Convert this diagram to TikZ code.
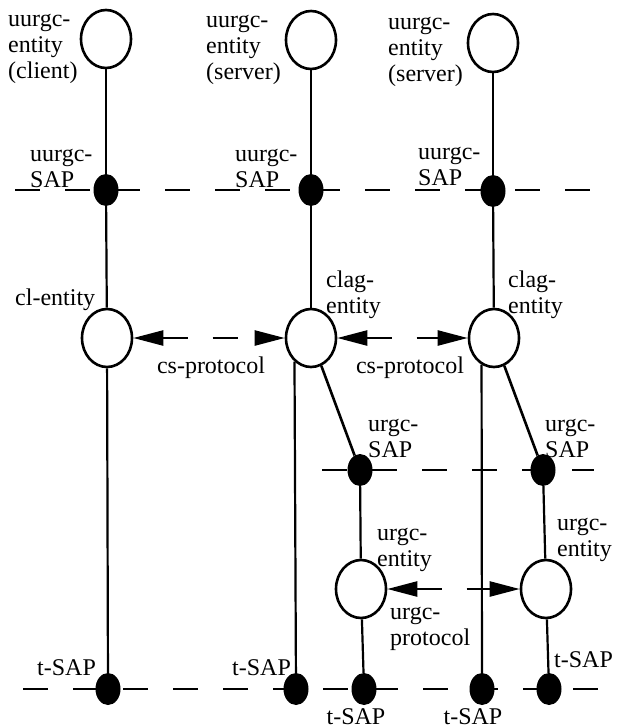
\documentclass[tikz,border=0pt]{standalone}
\usepackage{fontspec}
\setmainfont{Liberation Serif}
\usetikzlibrary{shapes.geometric,arrows.meta,positioning}
\tikzset{
  ent/.style={ellipse,draw,line width=2.6pt,minimum width=50pt,
    minimum height=58pt,inner sep=0pt},
  sap/.style={ellipse,fill=black,minimum width=25pt,minimum height=32pt,
    inner sep=0pt},
  lbl/.style={align=left,inner sep=0pt,font=\fontsize{24}{26}\selectfont},
  lnk/.style={line width=2.2pt},
  sapline/.style={line width=2.4pt,dash pattern=on 25pt off 25pt},
  proto/.style={{Triangle[length=30pt,width=15pt]}-{Triangle[length=30pt,width=15pt]},
    line width=2.4pt,dash pattern=on 25pt off 25pt},
}
\begin{document}
\begin{tikzpicture}[x=1pt,y=-1pt]
\useasboundingbox (0,0) rectangle (632,728);

% service access point lines
\coordinate (ua) at (15,190);  \coordinate (ub) at (592,190);
\coordinate (ra) at (322,470); \coordinate (rb) at (594,470);
\coordinate (ta) at (23,689);  \coordinate (tb) at (598,689);
\draw[sapline] (ua) -- (ub);
\draw[sapline] (ra) -- (rb);
\draw[sapline] (ta) -- (tb);

% entities
\node[ent] (c1t) at (106,39) {};
\node[ent] (c2t) at (311,40) {};
\node[ent] (c3t) at (493,43) {};
\node[ent] (c1m) at (107,338) {};
\node[ent] (c2m) at (311,338) {};
\node[ent] (c3m) at (494,338) {};
\node[ent] (u2e) at (361,589) {};
\node[ent] (u3e) at (546,589) {};

% access points
\node[sap] (s1) at (106,190) {};
\node[sap] (s2) at (311,190) {};
\node[sap] (s3) at (493,191) {};
\node[sap] (u2s) at (360,470) {};
\node[sap] (u3s) at (543,470) {};
\node[sap] (t1) at (108,689) {};
\node[sap] (t2) at (296,689) {};
\node[sap] (u2t) at (364,689) {};
\node[sap] (t3) at (482,689) {};
\node[sap] (u3t) at (549,689) {};

% links
\draw[lnk] (c1t) -- (s1);
\draw[lnk] (s1) -- (c1m);
\draw[lnk] (c1m) -- (t1);
\draw[lnk] (c2t) -- (s2);
\draw[lnk] (s2) -- (c2m);
\draw[lnk] (c2m.235) -- (t2);
\draw[lnk,line width=2.6pt] (c2m) -- (u2s);
\draw[lnk] (u2s) -- (u2e);
\draw[lnk] (u2e) -- (u2t);
\draw[lnk] (c3t) -- (s3);
\draw[lnk] (s3) -- (c3m);
\draw[lnk] (c3m.245) -- (t3);
\draw[lnk,line width=2.6pt] (c3m) -- (u3s);
\draw[lnk] (u3s) -- (u3e);
\draw[lnk] (u3e) -- (u3t);

% protocols
\draw[proto] (c1m) -- (c2m);
\draw[proto] (c2m) -- (c3m);
\draw[proto] (u2e) -- (u3e);

% labels (base = last line)
\node[lbl,anchor=base west] (l1t) at (8,78) {uurgc-\\entity\\(client)};
\node[lbl,anchor=base west] (l2t) at (206,79) {uurgc-\\entity\\(server)};
\node[lbl,anchor=base west] (l3t) at (388,81) {uurgc-\\entity\\(server)};
\node[lbl,anchor=base west] (l1s) at (30,187) {uurgc-\\SAP};
\node[lbl,anchor=base west] (l2s) at (235,187) {uurgc-\\SAP};
\node[lbl,anchor=base west] (l3s) at (418,185) {uurgc-\\SAP};
\node[lbl,anchor=base west] (l1m) at (15,305) {cl-entity};
\node[lbl,anchor=base west] (l2m) at (326,313) {clag-\\entity};
\node[lbl,anchor=base west] (l3m) at (508,313) {clag-\\entity};
\node[lbl,anchor=base] (p1) at (211,373) {cs-protocol};
\node[lbl,anchor=base] (p2) at (410,373) {cs-protocol};
\node[lbl,anchor=base west] (l2u) at (368,457) {urgc-\\SAP};
\node[lbl,anchor=base west] (l3u) at (545,457) {urgc-\\SAP};
\node[lbl,anchor=base west] (l2e) at (377,566) {urgc-\\entity};
\node[lbl,anchor=base west] (l3e) at (557,556) {urgc-\\entity};
\node[lbl,anchor=base west] (p3) at (390,645) {urgc-\\protocol};
\node[lbl,anchor=base west] (lt1) at (37,675) {t-SAP};
\node[lbl,anchor=base west] (lt2) at (232,675) {t-SAP};
\node[lbl,anchor=base] (lt3) at (356,724) {t-SAP};
\node[lbl,anchor=base] (lt4) at (473,724) {t-SAP};
\node[lbl,anchor=base west] (lt5) at (554,667) {t-SAP};
\end{tikzpicture}
\end{document}
